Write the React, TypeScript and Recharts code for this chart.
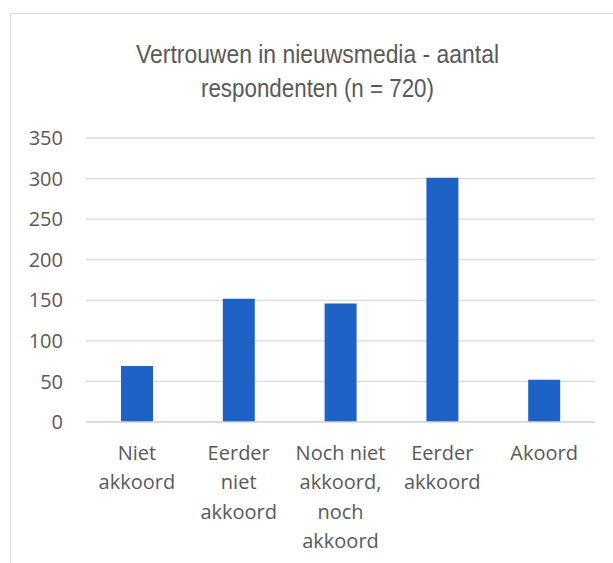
import { BarChart, Bar, XAxis, YAxis, CartesianGrid } from "recharts";

const categories = [
  "Niet akkoord",
  "Eerder niet akkoord",
  "Noch niet akkoord, noch akkoord",
  "Eerder akkoord",
  "Akoord",
];

const respondents = [69, 152, 146, 301, 52];

// how Excel wrapped the category labels
const tickLines = [
  ["Niet", "akkoord"],
  ["Eerder", "niet", "akkoord"],
  ["Noch niet", "akkoord,", "noch", "akkoord"],
  ["Eerder", "akkoord"],
  ["Akoord"],
];

const yTicks = [0, 50, 100, 150, 200, 250, 300, 350];

const titleLines = ["Vertrouwen in nieuwsmedia - aantal", "respondenten (n = 720)"];

const data = categories.map((name, i) => ({ name, value: respondents[i] }));

const textColor = "#595959";
const tickFont = "'Open Sans', sans-serif";

const CategoryTick = (props: any) => {
  const { x, y, index } = props;
  const lines = tickLines[index] ?? [props.payload.value];
  return (
    <text x={x} y={y} textAnchor="middle" fill={textColor} fontSize={20} fontFamily={tickFont}>
      {lines.map((line, i) => (
        <tspan key={i} x={x} dy={i === 0 ? 38 : 29.3}>
          {line}
        </tspan>
      ))}
    </text>
  );
};

export default function App() {
  return (
    <div
      style={{
        position: "absolute",
        left: 10,
        top: 13,
        width: 603,
        height: 550,
        boxSizing: "border-box",
        borderTop: "1px solid #d9d9d9",
        borderLeft: "1px solid #d9d9d9",
        background: "#fff",
        overflow: "hidden",
      }}
    >
      {/* condensed title: no narrow font installed, so squeeze Liberation Sans */}
      <svg width={602} height={110} style={{ position: "absolute", left: 0, top: 0 }}>
        <text
          x={306.5}
          y={48.5}
          textAnchor="middle"
          fill={textColor}
          fontSize={26}
          fontFamily="'Liberation Sans', sans-serif"
          textLength={363}
          lengthAdjust="spacingAndGlyphs"
        >
          {titleLines[0]}
        </text>
        <text
          x={306.5}
          y={83}
          textAnchor="middle"
          fill={textColor}
          fontSize={26}
          fontFamily="'Liberation Sans', sans-serif"
          textLength={233}
          lengthAdjust="spacingAndGlyphs"
        >
          {titleLines[1]}
        </text>
      </svg>
      <BarChart
        width={602}
        height={549}
        data={data}
        margin={{ top: 124, right: 18, bottom: 11, left: 0 }}
      >
        <CartesianGrid vertical={false} stroke="#d9d9d9" strokeWidth={1.3} />
        <XAxis
          dataKey="name"
          height={130}
          interval={0}
          tickLine={false}
          tickSize={0}
          tickMargin={0}
          axisLine={{ stroke: "#d9d9d9", strokeWidth: 1.3 }}
          tick={<CategoryTick />}
        />
        <YAxis
          width={75}
          domain={[0, 350]}
          ticks={yTicks}
          tickLine={false}
          axisLine={false}
          tickSize={0}
          tickMargin={23}
          tick={{ fill: textColor, fontSize: 20, fontFamily: tickFont }}
        />
        <Bar dataKey="value" fill="#1f62c6" barSize={32} isAnimationActive={false} />
      </BarChart>
    </div>
  );
}
